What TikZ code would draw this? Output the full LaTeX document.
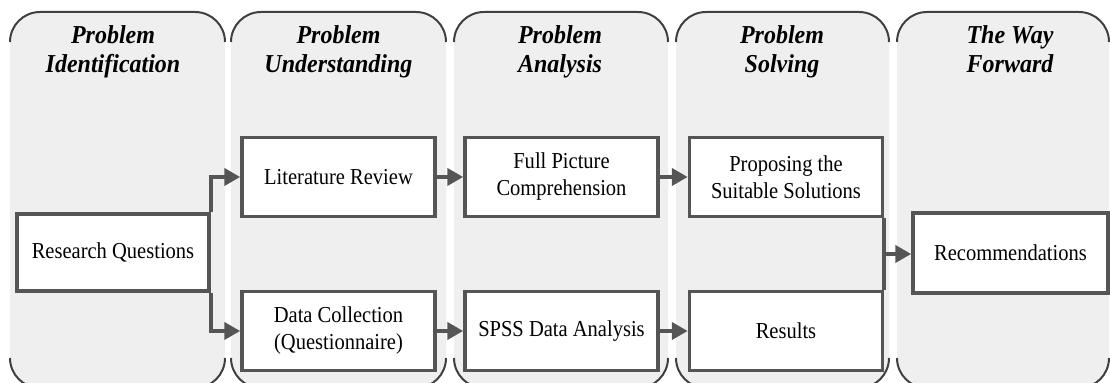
\documentclass[tikz,border=0pt]{standalone}
\usepackage{fontspec}
\setmainfont{Liberation Serif}
\newfontfamily\boxfont[FakeStretch=0.9]{Liberation Serif}
\newfontfamily\titlefont[FakeStretch=0.93]{Liberation Serif}
\usetikzlibrary{arrows.meta,calc}
\definecolor{colfill}{HTML}{EFEFEF}
\definecolor{colline}{HTML}{404040}
\definecolor{boxline}{HTML}{555555}
\tikzset{
  stepbox/.style={draw=boxline, line width=1.75pt, fill=white, inner sep=0pt,
    align=center, text=black, minimum width=96.5pt, minimum height=39.5pt,
    font=\boxfont\fontsize{11.4}{13.5}\selectfont},
  coltitle/.style={font=\titlefont\bfseries\itshape\fontsize{12.9}{14.5}\selectfont,
    align=center, inner sep=0pt, anchor=north, text=black},
  conn/.style={draw=boxline, line width=2.2pt, -{Triangle[length=8pt,width=8.5pt]}},
  joinline/.style={draw=boxline, line width=2.2pt},
  colborder/.style={draw=colline, line width=1pt}
}
\begin{document}
\begin{tikzpicture}[x=0.5pt,y=-0.5pt]
\useasboundingbox (0,0) rectangle (1110,383);
\clip (0,0) rectangle (1110,383);
% columns
\foreach \a/\b in {10/225,231/446,454/668,676/889,897/1109}{
  \fill[colfill, rounded corners=15pt] (\a,12) rectangle (\b,388);
  \draw[colborder] (\a,42) arc[start angle=180,end angle=90,radius=15pt]
     -- ({\b-30},12) arc[start angle=90,end angle=0,radius=15pt];
  \draw[colborder] (\a,358) arc[start angle=180,end angle=270,radius=15pt]
     -- ({\b-30},388) arc[start angle=270,end angle=360,radius=15pt];
}
% titles
\node[coltitle] (t1) at (113,25) {Problem\\Identification};
\node[coltitle] (t2) at (338.5,25) {Problem\\Understanding};
\node[coltitle] (t3) at (560,25) {Problem\\Analysis};
\node[coltitle] (t4) at (782,25) {Problem\\Solving};
\node[coltitle] (t5) at (1010,25) {The Way\\Forward};
% boxes
\node[stepbox, minimum width=96pt, minimum height=38.5pt] (rq) at (113,252.5) {Research Questions};
\node[stepbox] (lit) at (338.5,177) {Literature Review};
\node[stepbox] (full) at (561.5,177) {Full Picture\\Comprehension};
\node[stepbox] (prop) at (786,177) {Proposing the\\Suitable Solutions};
\node[stepbox] (data) at (338.5,331) {Data Collection\\(Questionnaire)};
\node[stepbox] (spss) at (561.5,331) {SPSS Data Analysis};
\node[stepbox] (res) at (786,331) {Results};
\node[stepbox, minimum width=97.5pt, minimum height=40pt] (rec) at (1010.5,253) {Recommendations};
% connectors
\draw[conn] (rq.north east) |- (lit.west);
\draw[conn] (rq.south east) |- (data.west);
\draw[conn] (lit.east) -- (full.west);
\draw[conn] (full.east) -- (prop.west);
\draw[conn] (data.east) -- (spss.west);
\draw[conn] (spss.east) -- (res.west);
\draw[joinline] (prop.south east) -- (res.north east);
\coordinate (mid) at ($(prop.south east)!0.5!(res.north east)$);
\draw[conn] (mid) -- (mid -| rec.west);
\end{tikzpicture}
\end{document}
